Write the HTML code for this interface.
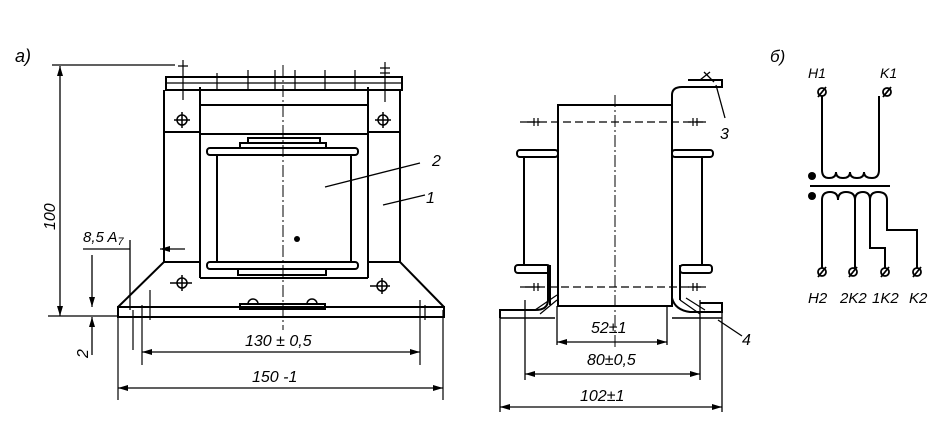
<!DOCTYPE html><html><head><meta charset="utf-8"><style>body{margin:0;background:#fff}svg{display:block}text{font-family:"Liberation Sans",sans-serif;font-style:italic;fill:#000}</style></head><body>
<svg width="935" height="433" viewBox="0 0 935 433" xmlns="http://www.w3.org/2000/svg">
<defs><marker id="a" viewBox="0 0 10 6" refX="10" refY="3" markerWidth="10" markerHeight="6" orient="auto-start-reverse" markerUnits="userSpaceOnUse"><path d="M0 0L10 3L0 6z" fill="#000"/></marker></defs>
<g stroke="#000" stroke-width="2" fill="none">
<!-- LEFT VIEW -->
<rect x="166" y="77" width="236" height="13"/>
<line x1="166" y1="83" x2="402" y2="83" stroke-width="1.3"/>
<path d="M164 90 V262 L118 307 M400 90 V262 L444 307"/>
<rect x="118" y="307" width="326" height="10"/>
<line x1="200" y1="87" x2="200" y2="278"/><line x1="368" y1="87" x2="368" y2="278"/>
<line x1="200" y1="105" x2="368" y2="105"/><line x1="200" y1="134" x2="368" y2="134"/>
<line x1="164" y1="132" x2="200" y2="132"/><line x1="368" y1="132" x2="400" y2="132"/>
<line x1="164" y1="262" x2="200" y2="262"/><line x1="368" y1="262" x2="400" y2="262"/>
<line x1="200" y1="278" x2="368" y2="278"/>
<rect x="248" y="138" width="72" height="5"/><rect x="240" y="143" width="86" height="5"/>
<rect x="207" y="148" width="151" height="7" rx="3"/>
<line x1="217" y1="155" x2="217" y2="262"/><line x1="351" y1="155" x2="351" y2="262"/>
<rect x="207" y="262" width="151" height="7" rx="3"/>
<rect x="238" y="269" width="88" height="6"/>
<rect x="240" y="304" width="85" height="5"/>
<path d="M248 304 a5 5 0 0 1 10 0 M307 304 a5 5 0 0 1 10 0" stroke-width="1.5"/>
<g stroke-width="1.5"><circle cx="182" cy="120" r="5"/><circle cx="383" cy="120" r="5"/><circle cx="182" cy="283" r="5"/><circle cx="382" cy="286" r="5"/>
<path d="M174 120h16M182 112v16M375 120h16M383 112v16M170 283h22M182 275v16M370 286h20M382 278v16"/></g>
<g stroke-width="1.2"><path d="M183 60v40M217 73v17M248 70v20M275 70v20M295 70v20M325 70v20M355 70v20M385 62v40M380 68h10M380 73h10M178 66h10"/>
<path d="M133 310v40M142 305v60M150 290v30M420 300v65M425 305v15M443 310v90M118 310v90"/></g>
<line x1="283" y1="65" x2="283" y2="330" stroke-width="1" stroke-dasharray="12,3,2,3"/>
<g stroke-width="1.3"><path d="M52 65H175M48 316H118M83 249H130M130 240v70"/>
<line x1="60" y1="66" x2="60" y2="316" marker-start="url(#a)" marker-end="url(#a)"/>
<line x1="160" y1="249" x2="185" y2="249" marker-start="url(#a)"/>
<line x1="92" y1="255" x2="92" y2="307" marker-end="url(#a)"/>
<line x1="92" y1="355" x2="92" y2="317" marker-end="url(#a)"/>
<line x1="142" y1="352" x2="420" y2="352" marker-start="url(#a)" marker-end="url(#a)"/>
<line x1="118" y1="388" x2="443" y2="388" marker-start="url(#a)" marker-end="url(#a)"/>
<path d="M325 187L420 163M383 205L425 195"/></g>
<!-- RIGHT VIEW -->
<rect x="558" y="105" width="114" height="201"/>
<line x1="527" y1="122" x2="703" y2="122" stroke-width="1.3" stroke-dasharray="8,4"/>
<line x1="525" y1="287" x2="703" y2="287" stroke-width="1.3" stroke-dasharray="8,4"/>
<rect x="517" y="150" width="41" height="7" rx="3"/><rect x="672" y="150" width="41" height="7" rx="3"/>
<rect x="515" y="265" width="35" height="8" rx="3"/><rect x="680" y="265" width="32" height="8" rx="3"/>
<line x1="524" y1="157" x2="524" y2="265"/><line x1="702" y1="157" x2="702" y2="265"/>
<path d="M672 132 V95 Q672 87 682 87 H722 V80 H688"/>
<path d="M548 265V300Q548 310 535 310H500V318M550 265V305M672 265V298Q675 310 690 312H722V303H700M680 265v35"/>
<path d="M500 318H555M672 318H722" stroke-width="1.5"/>
<path d="M535 310L557 295M540 314L557 300M680 300L700 314M686 298L705 310" stroke-width="1.2"/>
<path d="M700 80l10 -8M704 72l10 10M716 85L725 118M718 320L742 336" stroke-width="1.3"/>
<path d="M520 122h20M688 122h18M520 287h20M688 287h18M534 118v8M538 118v8M693 118v8M697 118v8M534 283v8M538 283v8M693 283v8M697 283v8" stroke-width="1.2"/>
<line x1="615" y1="95" x2="615" y2="350" stroke-width="1" stroke-dasharray="12,3,2,3"/>
<g stroke-width="1.3"><path d="M557 306V345M667 306V345M525 300V380M700 300V380M500 310V412M722 310V412"/>
<line x1="557" y1="342" x2="667" y2="342" marker-start="url(#a)" marker-end="url(#a)"/>
<line x1="525" y1="374" x2="700" y2="374" marker-start="url(#a)" marker-end="url(#a)"/>
<line x1="500" y1="407" x2="722" y2="407" marker-start="url(#a)" marker-end="url(#a)"/></g>
<!-- SCHEMATIC -->
<path d="M822 96V170 q0 8 7 8 q7 0 7 -6 q0 6 7 6 q7 0 7 -6 q0 6 7 6 q7 0 7 -6 q0 6 8 6 q7 0 7 -8 V96"/>
<line x1="810" y1="186" x2="890" y2="186"/>
<path d="M822 268V200 q0 -8 8 -8 q8 0 8 8 q0 -8 8 -8 q9 0 9 8 V268 M855 200 q0 -8 8 -8 q7 0 7 8 V248 H885 V268 M870 200 q0 -8 8 -8 q9 0 9 8 V230 H917 V268"/>
<g stroke-width="1.8"><circle cx="822" cy="92" r="4"/><circle cx="887" cy="92" r="4"/><circle cx="822" cy="272" r="4"/><circle cx="853" cy="272" r="4"/><circle cx="885" cy="272" r="4"/><circle cx="917" cy="272" r="4"/>
<path d="M818 97l8 -10M883 97l8 -10M818 277l8 -10M849 277l8 -10M881 277l8 -10M913 277l8 -10"/></g>
</g>
<circle cx="297" cy="239" r="3"/>
<circle cx="812" cy="176" r="4"/><circle cx="812" cy="196" r="4"/>
<g font-size="16">
<text x="15" y="62" font-size="18">a)</text>
<text x="770" y="62" font-size="17">б)</text>
<text x="432" y="166">2</text><text x="426" y="203">1</text>
<text x="720" y="139">3</text><text x="742" y="345">4</text>
<text transform="translate(55,230) rotate(-90)">100</text>
<text transform="translate(88,358) rotate(-90)">2</text>
<text x="83" y="242" font-size="15">8,5 A<tspan font-size="11" dy="3">7</tspan></text>
<text x="245" y="346">130 ± 0,5</text>
<text x="252" y="382">150 -1</text>
<text x="591" y="333">52±1</text>
<text x="587" y="365">80±0,5</text>
<text x="580" y="401">102±1</text>
<text x="808" y="78" font-size="14">H1</text><text x="880" y="78" font-size="14">K1</text>
<text x="808" y="303" font-size="15">H2</text><text x="840" y="303" font-size="15">2K2</text><text x="872" y="303" font-size="15">1K2</text><text x="909" y="303" font-size="15">K2</text>
</g>
</svg></body></html>
